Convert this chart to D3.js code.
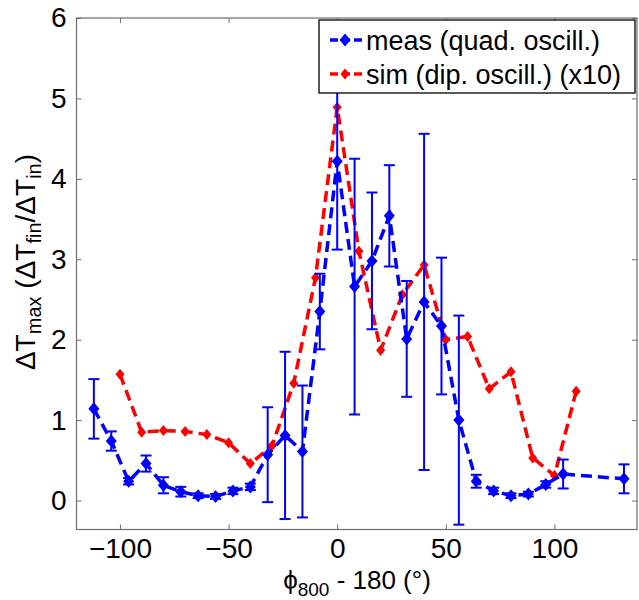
<!DOCTYPE html>
<html>
<head>
<meta charset="utf-8">
<script src="https://cdn.jsdelivr.net/npm/d3@7"></script>
<style>
  body { margin: 0; background: #fff; }
  svg text { font-family: "Liberation Sans", Arial, sans-serif; fill: #000; }
</style>
</head>
<body>
<script>
// measured data (quadrupole oscillation), with symmetric error half-widths
var measX = [-112, -104, -96, -88, -80, -72, -64, -56, -48, -40, -32, -24, -16, -8, 0,
             8, 16, 24, 32, 40, 48, 56, 64, 72, 80, 88, 96, 104, 132];
var measY = [1.14, 0.74, 0.24, 0.46, 0.19, 0.11, 0.06, 0.05, 0.12, 0.17, 0.57, 0.81, 0.61, 2.35, 4.22,
             2.66, 2.98, 3.54, 2.01, 2.47, 2.17, 1.0, 0.24, 0.12, 0.06, 0.08, 0.2, 0.33, 0.27];
var measErr = [0.37, 0.12, 0.04, 0.1, 0.1, 0.06, 0.03, 0.03, 0.04, 0.04, 0.59, 1.04, 0.82, 0.47, 1.1,
               1.59, 0.85, 0.63, 0.72, 2.09, 0.85, 1.3, 0.08, 0.04, 0.03, 0.03, 0.04, 0.18, 0.18];

// simulation (dipole oscillation), scaled x10
var simX = [-100, -90, -80, -70, -60, -50, -40, -30, -20, -10, 0,
            10, 20, 30, 40, 50, 60, 70, 80, 90, 100, 110];
var simY = [1.57, 0.85, 0.87, 0.86, 0.82, 0.72, 0.46, 0.68, 1.46, 2.77, 4.89,
            3.1, 1.87, 2.56, 2.93, 2.0, 2.04, 1.39, 1.6, 0.53, 0.31, 1.36];

var xTicks = [-100, -50, 0, 50, 100];
var yTicks = [0, 1, 2, 3, 4, 5, 6];
var legendLabels = ["meas (quad. oscill.)", "sim (dip. oscill.) (x10)"];

var W = 639, H = 600;
var svg = d3.select("body").append("svg").attr("width", W).attr("height", H);

var x = d3.scaleLinear().domain([-120, 138]).range([76.5, 637]);
var y = d3.scaleLinear().domain([-0.36, 6]).range([529.5, 18]);

var axisColor = "#6e6e6e";
var tickFont = 28;

function styleAxis(g, showLabels) {
  g.selectAll("path").remove();
  g.selectAll("line").attr("stroke", axisColor);
  if (showLabels) {
    g.selectAll("text").attr("font-size", tickFont).attr("font-family", null);
  } else {
    g.selectAll("text").remove();
  }
}

svg.append("g").attr("transform", "translate(0," + y.range()[0] + ")")
  .call(d3.axisBottom(x).tickValues(xTicks).tickFormat(d3.format("d"))
    .tickSizeInner(-5).tickSizeOuter(0).tickPadding(8.5))
  .call(styleAxis, true);
svg.append("g").attr("transform", "translate(0," + y.range()[1] + ")")
  .call(d3.axisTop(x).tickValues(xTicks).tickSizeInner(-5).tickSizeOuter(0))
  .call(styleAxis, false);
svg.append("g").attr("transform", "translate(" + x.range()[0] + ",0)")
  .call(d3.axisLeft(y).tickValues(yTicks).tickFormat(d3.format("d"))
    .tickSizeInner(-5).tickSizeOuter(0).tickPadding(10))
  .call(styleAxis, true);
svg.append("g").attr("transform", "translate(" + x.range()[1] + ",0)")
  .call(d3.axisRight(y).tickValues(yTicks).tickSizeInner(-5).tickSizeOuter(0))
  .call(styleAxis, false);

svg.append("rect")
  .attr("x", x.range()[0]).attr("y", y.range()[1])
  .attr("width", x.range()[1] - x.range()[0])
  .attr("height", y.range()[0] - y.range()[1])
  .attr("fill", "none").attr("stroke", axisColor).attr("stroke-width", 1.2);

function diamond(w, h) {
  return "M0," + (-h) + "L" + w + ",0L0," + h + "L" + (-w) + ",0Z";
}

var line = d3.line().x(function(d) { return x(d[0]); }).y(function(d) { return y(d[1]); });

// sim series (drawn first, underneath)
var simData = d3.zip(simX, simY);
svg.append("path").datum(simData)
  .attr("d", line).attr("fill", "none").attr("stroke", "#ff0000")
  .attr("stroke-width", 3.5).attr("stroke-dasharray", "11,6");
svg.selectAll(".simpt").data(simData).enter().append("path")
  .attr("class", "simpt")
  .attr("transform", function(d) { return "translate(" + x(d[0]) + "," + y(d[1]) + ")"; })
  .attr("d", diamond(4.5, 5.5)).attr("fill", "#ff0000");

// meas series
var measData = d3.zip(measX, measY, measErr);
var eb = svg.append("g").attr("stroke", "#0000ff").attr("stroke-width", 2).attr("fill", "none");
measData.forEach(function(d) {
  var px = x(d[0]), y0 = y(d[1] - d[2]), y1 = y(d[1] + d[2]);
  eb.append("line").attr("x1", px).attr("x2", px).attr("y1", y0).attr("y2", y1);
  eb.append("line").attr("x1", px - 5.5).attr("x2", px + 5.5).attr("y1", y0).attr("y2", y0);
  eb.append("line").attr("x1", px - 5.5).attr("x2", px + 5.5).attr("y1", y1).attr("y2", y1);
});
svg.append("path").datum(measData)
  .attr("d", line).attr("fill", "none").attr("stroke", "#0000ff")
  .attr("stroke-width", 3.5).attr("stroke-dasharray", "11,6");
svg.selectAll(".measpt").data(measData).enter().append("path")
  .attr("class", "measpt")
  .attr("transform", function(d) { return "translate(" + x(d[0]) + "," + y(d[1]) + ")"; })
  .attr("d", diamond(5.5, 6.5)).attr("fill", "#0000ff");

// legend
var lg = svg.append("g");
lg.append("rect").attr("x", 319).attr("y", 20).attr("width", 316).attr("height", 73)
  .attr("fill", "#fff").attr("stroke", "#000").attr("stroke-width", 1.3);
var legColors = ["#0000ff", "#ff0000"];
var legSize = [[5.5, 6.5], [4.5, 5.5]];
legendLabels.forEach(function(t, i) {
  var ly = 40 + i * 34;
  lg.append("line").attr("x1", 330).attr("x2", 363).attr("y1", ly).attr("y2", ly)
    .attr("stroke", legColors[i]).attr("stroke-width", 3.5).attr("stroke-dasharray", "8,4");
  lg.append("path").attr("transform", "translate(345," + ly + ")")
    .attr("d", diamond(legSize[i][0], legSize[i][1])).attr("fill", legColors[i]);
  lg.append("text").attr("x", 366).attr("y", ly + 9.5).attr("font-size", 27).text(t);
});

// x label
var xl = svg.append("text").attr("x", 357).attr("y", 589).attr("text-anchor", "middle").attr("font-size", 26);
xl.append("tspan").text("\u03d5");
xl.append("tspan").attr("dy", 7).attr("font-size", 19).text("800");
xl.append("tspan").attr("dy", -7).text(" - 180 (\u00b0)");

// y label
var yl = svg.append("text").attr("transform", "translate(35,262) rotate(-90)")
  .attr("text-anchor", "middle").attr("font-size", 28);
yl.append("tspan").text("\u0394T");
yl.append("tspan").attr("dy", 6).attr("font-size", 20).text("max");
yl.append("tspan").attr("dy", -6).text(" (\u0394T");
yl.append("tspan").attr("dy", 6).attr("font-size", 20).text("fin");
yl.append("tspan").attr("dy", -6).text("/\u0394T");
yl.append("tspan").attr("dy", 6).attr("font-size", 20).text("in");
yl.append("tspan").attr("dy", -6).text(")");
</script>
</body>
</html>
